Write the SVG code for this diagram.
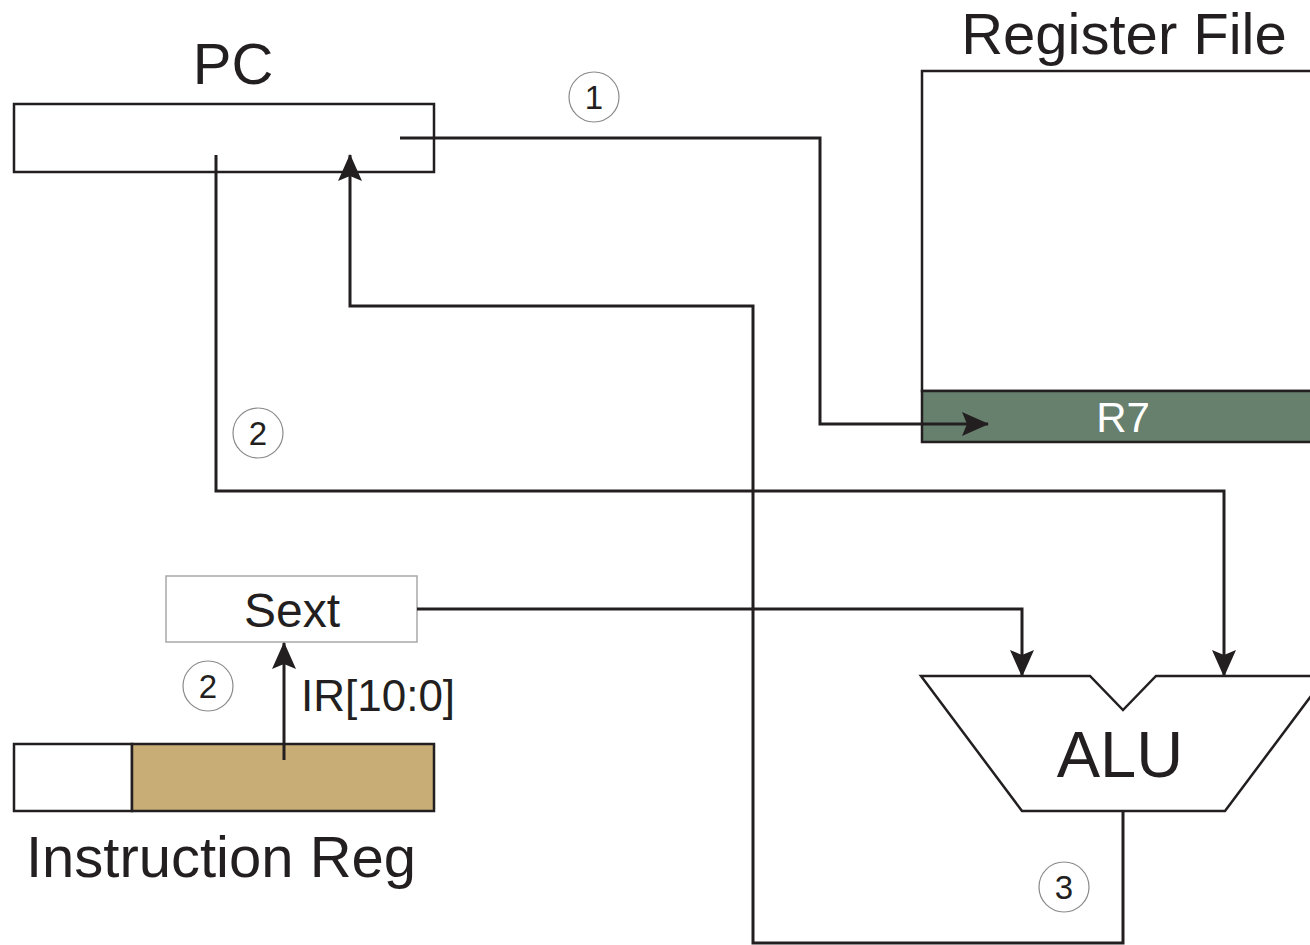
<svg xmlns="http://www.w3.org/2000/svg" width="1310" height="945" viewBox="0 0 1310 945">
<style>
.ln{fill:none;stroke:#231f20;stroke-width:3;stroke-linejoin:miter}
.box{stroke:#231f20;stroke-width:2.5}
.t{font-family:"Liberation Sans",Arial,sans-serif;fill:#231f20;text-anchor:middle}
.circ{fill:#fff;stroke:#8a8a8a;stroke-width:1.2}
.num{font-family:"Liberation Sans",Arial,sans-serif;font-size:33px;fill:#231f20;text-anchor:middle}
</style>
<defs>
<marker id="ah" markerUnits="userSpaceOnUse" markerWidth="28" markerHeight="26" refX="26" refY="12" orient="auto">
<path d="M0,0 L27,12 L0,24 L5,12 Z" fill="#231f20"/>
</marker>
</defs>
<rect width="1310" height="945" fill="#fff"/>

<g id="regfile">
<rect class="box" x="922" y="71" width="400" height="320" fill="#fff"/>
<rect class="box" x="922" y="391" width="400" height="51" fill="#67806e"/>
<text class="t" x="1124" y="54" font-size="58">Register File</text>
<text class="t" x="1123" y="432" font-size="42" style="fill:#fff">R7</text>
</g>

<g id="pc">
<rect class="box" x="14" y="104" width="420" height="68" fill="#fff"/>
<text class="t" x="233" y="84" font-size="58">PC</text>
</g>

<g id="sext">
<rect x="166" y="576" width="251" height="66" fill="#fff" stroke="#a8a8a8" stroke-width="1.5"/>
<text class="t" x="292" y="627" font-size="48">Sext</text>
</g>

<g id="ir">
<rect class="box" x="14" y="744" width="118" height="67" fill="#fff"/>
<rect class="box" x="132" y="744" width="302" height="67" fill="#c8ae76"/>
<text class="t" x="221" y="877" font-size="58">Instruction Reg</text>
</g>

<g id="alu">
<polygon class="box" points="921,676 1090,676 1123,710 1156,676 1326,676 1225,811 1022,811" fill="#fff"/>
<text class="t" x="1120" y="777" font-size="65">ALU</text>
</g>

<g id="connectors">
<path class="ln" d="M400,138 H820 V424 H988" marker-end="url(#ah)"/>
<path class="ln" d="M216,155 V491 H1224 V676" marker-end="url(#ah)"/>
<path class="ln" d="M417,609 H1022 V676" marker-end="url(#ah)"/>
<path class="ln" d="M1123,811 V943 H753 V306 H350 V155" marker-end="url(#ah)"/>
<path class="ln" d="M284,760 V643" marker-end="url(#ah)"/>
<text x="301" y="711" font-family="Liberation Sans, Arial, sans-serif" font-size="44" fill="#231f20">IR[10:0]</text>
</g>

<g id="step-labels">
<circle class="circ" cx="594" cy="97" r="25"/>
<text class="num" x="594" y="109">1</text>
<circle class="circ" cx="258" cy="433" r="25"/>
<text class="num" x="258" y="445">2</text>
<circle class="circ" cx="208" cy="686" r="25"/>
<text class="num" x="208" y="698">2</text>
<circle class="circ" cx="1064" cy="887" r="25"/>
<text class="num" x="1064" y="899">3</text>
</g>
</svg>
